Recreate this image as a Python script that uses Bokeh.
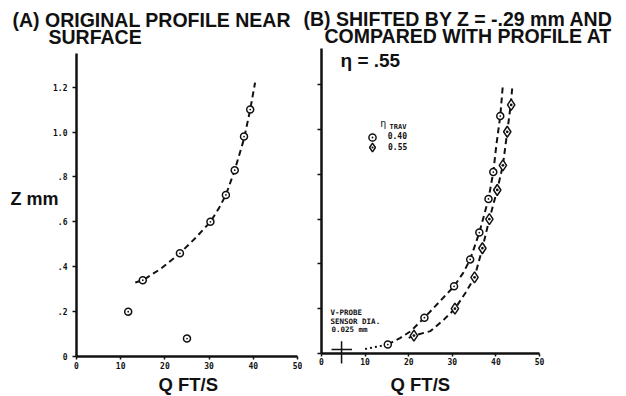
from bokeh.plotting import figure
from bokeh.layouts import row
from bokeh.models import Range1d, FixedTicker, Label, Arrow, Legend, LegendItem
from bokeh.embed import file_html
from bokeh.resources import INLINE

# ---------------- data ----------------
X_TICKS = [0, 10, 20, 30, 40, 50]
X_TICK_LABELS = ["0", "10", "20", "30", "40", "50"]
Y_TICKS = [0, 0.2, 0.4, 0.6, 0.8, 1.0, 1.2]
Y_TICK_LABELS = ["0", ".2", ".4", ".6", ".8", "1.0", "1.2"]

# (A) original profile near surface
LEFT_Q = [11.7, 15.0, 23.4, 25.0, 30.3, 33.8, 35.8, 37.9, 39.3]
LEFT_Z = [0.20, 0.34, 0.46, 0.08, 0.60, 0.72, 0.83, 0.98, 1.10]
LEFT_FIT_Q = [13.3, 15.0, 19.0, 23.4, 27.0, 30.3, 32.2, 33.8, 35.8, 37.9, 39.3, 40.4]
LEFT_FIT_Z = [0.33, 0.34, 0.39, 0.46, 0.53, 0.60, 0.66, 0.72, 0.83, 0.97, 1.10, 1.22]

# (B) shifted profile (eta_trav = 0.40) and profile at eta_trav = 0.55
SERIES_NAMES = ["0.40", "0.55"]
R40_Q = [15.2, 23.6, 30.4, 34.1, 36.2, 38.3, 39.4, 41.0]
R40_Z = [0.04, 0.16, 0.30, 0.42, 0.54, 0.69, 0.81, 1.06]
R55_Q = [21.2, 30.6, 35.1, 36.9, 38.5, 40.3, 41.6, 42.6, 43.5]
R55_Z = [0.08, 0.20, 0.34, 0.47, 0.60, 0.73, 0.84, 0.99, 1.11]
FIT40_TAIL_Q = [10.0, 12.6, 15.2]
FIT40_TAIL_Z = [0.02, 0.03, 0.04]
FIT40_Q = [15.2, 18.1, 20.5, 23.6, 27.0, 30.4, 32.5, 34.1, 36.2, 38.3, 39.4, 40.1, 41.0, 41.6]
FIT40_Z = [0.04, 0.07, 0.10, 0.16, 0.23, 0.30, 0.36, 0.42, 0.54, 0.69, 0.81, 0.93, 1.06, 1.20]
FIT55_Q = [20.0, 21.2, 25.0, 28.0, 30.6, 33.0, 35.1, 36.9, 38.5, 40.3, 41.6, 42.6, 43.4, 43.8]
FIT55_Z = [0.07, 0.08, 0.10, 0.15, 0.20, 0.27, 0.34, 0.47, 0.60, 0.73, 0.84, 0.99, 1.11, 1.20]

PROBE_Q = 4.6
PROBE_DIA_Q = [2.3, 7.0]

BOLD_SANS = "Liberation Sans"
MONO = "DejaVu Sans Mono"
INK = "#111111"
H = 396


def style(p, y_top, show_y_labels=True):
    p.outline_line_color = None
    p.xgrid.visible = False
    p.ygrid.visible = False
    p.background_fill_color = "white"
    p.border_fill_color = "white"
    p.min_border = 0
    p.xaxis.fixed_location = 0
    p.yaxis.fixed_location = 0
    p.xaxis.bounds = (0, 50)
    p.yaxis.bounds = (0, y_top)
    p.xaxis.ticker = FixedTicker(ticks=X_TICKS)
    p.xaxis.major_label_overrides = {t: l for t, l in zip(X_TICKS, X_TICK_LABELS)}
    p.yaxis.ticker = FixedTicker(ticks=Y_TICKS)
    for ax in p.axis:
        ax.axis_line_width = 2.5
        ax.axis_line_color = INK
        ax.major_tick_line_width = 1.5
        ax.major_tick_line_color = INK
        ax.major_tick_in = 0
        ax.minor_tick_in = 0
        ax.minor_tick_out = 0
        ax.major_label_text_font = MONO
        ax.major_label_text_font_style = "bold"
        ax.major_label_text_color = INK
        ax.major_label_text_font_size = "8px"
    if show_y_labels:
        p.yaxis.major_label_overrides = {t: l for t, l in zip(Y_TICKS, Y_TICK_LABELS)}
    else:
        p.yaxis.major_label_overrides = {t: "" for t in Y_TICKS}
    p.xaxis.major_tick_out = 3
    p.xaxis.major_label_standoff = 2
    p.yaxis.major_tick_out = 4
    p.yaxis.major_label_standoff = 5


def label(p, x, y, text, size, font=BOLD_SANS, bold=True):
    p.add_layout(Label(x=x, y=y, text=text, text_font=font, text_font_size=size,
                       text_font_style="bold" if bold else "normal",
                       text_color=INK, text_baseline="middle", text_align="left"))


# ---------------- left panel ----------------
p1 = figure(width=302, height=H, x_range=Range1d(-17.19, 51.13), y_range=Range1d(-0.178, 1.586),
            output_backend="svg", toolbar_location=None, title=None)
style(p1, 1.35, True)
p1.line(LEFT_FIT_Q, LEFT_FIT_Z, line_color=INK, line_width=2, line_dash="6 4")
p1.scatter(LEFT_Q, LEFT_Z, marker="circle_dot", size=7, line_color=INK, line_width=1.5,
           fill_color="white")
label(p1, -14.48, 1.497, "(A) ORIGINAL PROFILE NEAR", "19.5px")
label(p1, -6.33, 1.424, "SURFACE", "19.5px")
label(p1, -14.93, 0.700, "Z mm", "18px")
label(p1, 18.55, -0.125, "Q FT/S", "18.5px")

# ---------------- right panel ----------------
p2 = figure(width=324, height=H, x_range=Range1d(-4.358, 69.95), y_range=Range1d(-0.192, 1.576),
            output_backend="svg", toolbar_location=None, title=None)
style(p2, 1.36, False)
p2.line(FIT40_TAIL_Q, FIT40_TAIL_Z, line_color=INK, line_width=2, line_dash="2 3")
p2.line(FIT40_Q, FIT40_Z, line_color=INK, line_width=2, line_dash="6 4")
p2.line(FIT55_Q, FIT55_Z, line_color=INK, line_width=2, line_dash="6 4")
r40 = p2.scatter(R40_Q, R40_Z, marker="circle_dot", size=7, line_color=INK, line_width=1.5,
                 fill_color="white")
r55 = p2.scatter(R55_Q, R55_Z, marker="diamond_dot", size=11, line_color=INK, line_width=1.5,
                 fill_color="white")

for item_label, rend, loc, g, st in [
    (SERIES_NAMES[0], r40, (60.7, 250.3), 18, 7),
    (SERIES_NAMES[1], r55, (59.0, 238.0), 22, 5),
]:
    lg = Legend(items=[LegendItem(label=item_label, renderers=[rend])],
                location=loc, glyph_width=g, glyph_height=g, label_height=10,
                padding=0, margin=0, label_standoff=st, spacing=0,
                border_line_color=None, background_fill_alpha=0,
                label_text_font=MONO, label_text_font_style="bold",
                label_text_font_size="8px", label_text_color=INK)
    p2.add_layout(lg)

label(p2, -4.13, 1.492, "(B) SHIFTED BY Z = -.29 mm AND", "19.5px")
label(p2, 0.69, 1.417, "COMPARED WITH PROFILE AT", "19.5px")
label(p2, 4.36, 1.308, "\u03b7 = .55", "19px")
label(p2, 13.53, 1.027, "\u03b7", "10px", font=BOLD_SANS, bold=False)
label(p2, 15.6, 1.011, "TRAV", "7px", font=MONO)
label(p2, 2.06, 0.185, "V-PROBE", "7.5px", font=MONO)
label(p2, 2.06, 0.141, "SENSOR DIA.", "7.5px", font=MONO)
label(p2, 2.29, 0.105, "0.025 mm", "7.5px", font=MONO)
label(p2, 15.83, -0.138, "Q FT/S", "18.5px")

p2.add_layout(Arrow(end=None, x_start=PROBE_Q, y_start=0.055, x_end=PROBE_Q, y_end=-0.045,
                    line_color=INK, line_width=1.5))
p2.add_layout(Arrow(end=None, x_start=PROBE_DIA_Q[0], y_start=0.018, x_end=PROBE_DIA_Q[1],
                    y_end=0.018, line_color=INK, line_width=1.5))

layout = row(p1, p2)
open("out.html", "w").write(file_html(layout, INLINE))
